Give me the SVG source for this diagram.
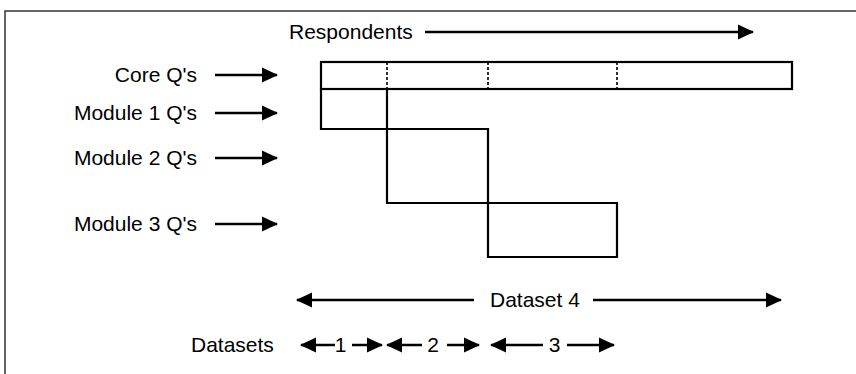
<svg xmlns="http://www.w3.org/2000/svg" width="856" height="374" viewBox="0 0 856 374">
<style>
text{font-family:"Liberation Sans",Arial,sans-serif;font-size:21px;fill:#000}
.ln{stroke:#000;stroke-width:2.5;fill:none}
.box{stroke:#000;stroke-width:2.2;fill:none}
.dash{stroke:#000;stroke-width:1.6;stroke-dasharray:3 2;fill:none}
.frame{stroke:#333;stroke-width:1.5;fill:none}
</style>
<defs>
<marker id="ah" viewBox="0 0 16 16" refX="15" refY="8" markerWidth="16" markerHeight="16" markerUnits="userSpaceOnUse" orient="auto-start-reverse">
<path d="M0,0.5 L16,8 L0,15.5 Z" fill="#000"/>
</marker>
</defs>
<path class="frame" d="M5,374 V11 H856"/>
<g id="labels">
<text id="respondents" x="289" y="39">Respondents</text>
<text id="core" x="197" y="82" text-anchor="end">Core Q's</text>
<text id="mod1" x="197" y="120" text-anchor="end">Module 1 Q's</text>
<text id="mod2" x="197" y="165" text-anchor="end">Module 2 Q's</text>
<text id="mod3" x="197" y="231" text-anchor="end">Module 3 Q's</text>
<text id="dataset4" x="490" y="307">Dataset 4</text>
<text id="datasets" x="191" y="352">Datasets</text>
<text x="340.5" y="352" text-anchor="middle">1</text>
<text x="433" y="352" text-anchor="middle">2</text>
<text x="554.5" y="352" text-anchor="middle">3</text>
</g>
<g id="blocks">
<g id="core-block"><rect class="box" x="321" y="62" width="471" height="27"/>
<path class="dash" d="M387,62 V89 M488,62 V89 M617,62 V89"/></g>
<g id="module-blocks"><path class="box" d="M321,89 V129 H488 V257 H617 V203 H387 V89"/></g>
</g>
<g id="connectors">
<line class="ln" x1="425" y1="32" x2="753" y2="32" marker-end="url(#ah)"/>
<line class="ln" x1="215" y1="75" x2="277" y2="75" marker-end="url(#ah)"/>
<line class="ln" x1="215" y1="113" x2="277" y2="113" marker-end="url(#ah)"/>
<line class="ln" x1="215" y1="158" x2="277" y2="158" marker-end="url(#ah)"/>
<line class="ln" x1="215" y1="224" x2="277" y2="224" marker-end="url(#ah)"/>
<line class="ln" x1="297" y1="300" x2="474" y2="300" marker-start="url(#ah)"/>
<line class="ln" x1="593" y1="300" x2="781" y2="300" marker-end="url(#ah)"/>
<line class="ln" x1="301" y1="345" x2="335" y2="345" marker-start="url(#ah)"/>
<line class="ln" x1="352" y1="345" x2="382" y2="345" marker-end="url(#ah)"/>
<line class="ln" x1="387" y1="345" x2="422" y2="345" marker-start="url(#ah)"/>
<line class="ln" x1="447" y1="345" x2="479" y2="345" marker-end="url(#ah)"/>
<line class="ln" x1="491" y1="345" x2="543" y2="345" marker-start="url(#ah)"/>
<line class="ln" x1="567" y1="345" x2="614" y2="345" marker-end="url(#ah)"/>
</g>
</svg>
